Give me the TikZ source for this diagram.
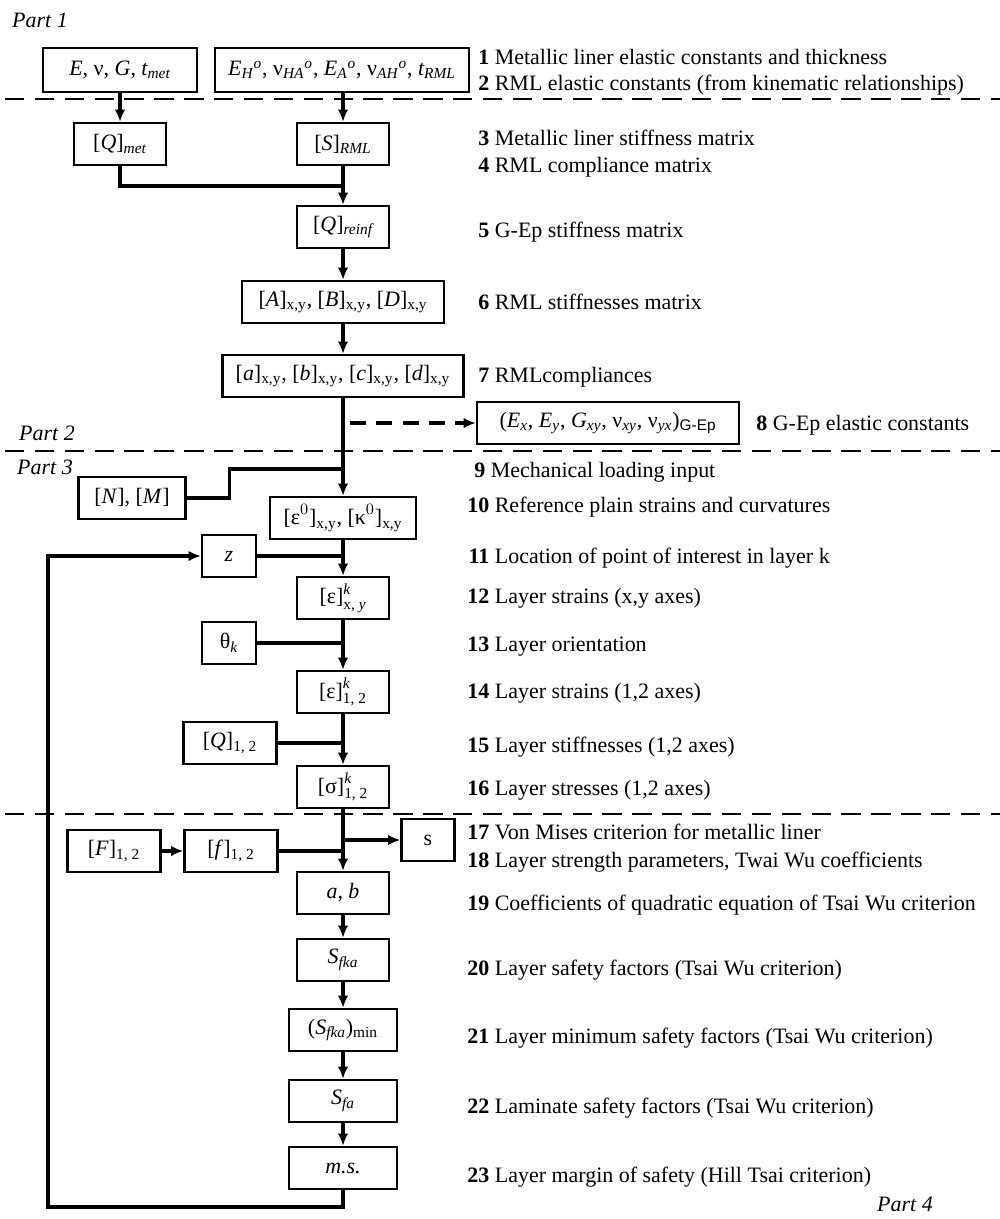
\documentclass[tikz,border=0pt]{standalone}
\usepackage{fontspec}
\setmainfont{Liberation Serif}
\setsansfont{Liberation Sans}
\usepackage{amsmath}
\usepackage{tikz}
\usetikzlibrary{arrows.meta}
\tikzstyle{box} = [draw, line width=1.3pt, minimum height=0.84cm, minimum width=1.84cm, inner sep=2pt]
\tikzstyle{arrow} = [-{Latex[length=7pt,width=6pt]}, line width=2pt]
\tikzstyle{line} = [line width=2pt]
\tikzstyle{sep} = [line width=1.3pt, dash pattern=on 11pt off 6pt]
\tikzstyle{lbl} = [anchor=west, inner sep=0pt]
\newcommand{\nr}[2]{\makebox[0.44cm][r]{\textbf{#1}} #2}

\begin{document}
\begin{tikzpicture}[x=0.2mm, y=-0.2mm, font=\fontsize{12.5}{15}\selectfont]
\useasboundingbox (0,0) rectangle (1000,1219);
% part 1
\node[anchor=west] (p1) at (6,20) {\textit{Part 1}};
\node[box, minimum width=3.08cm, minimum height=0.88cm] (in1) at (120,70) {\textit{E}, ν, \textit{G}, $\textit{t}_{\textit{met}}$};
\node[box, minimum width=5.08cm, minimum height=0.88cm] (in2) at (342,70) {$\textit{E}_{\textit{H}}{}^{\textit{o}}$, $\text{ν}_{\textit{HA}}{}^{\textit{o}}$, $\textit{E}_{\textit{A}}{}^{\textit{o}}$, $\text{ν}_{\textit{AH}}{}^{\textit{o}}$, $\textit{t}_{\textit{RML}}$};
\draw[sep] (5,99) -- (1000,99);
\node[box] (Qmet) at (120,144) {[\textit{Q}]$_{\textit{met}}$};
\node[box] (SRML) at (343,144) {[\textit{S}]$_{\textit{RML}}$};
\node[box] (Qreinf) at (343,227) {[\textit{Q}]$_{\textit{reinf}}$};
\node[box, minimum width=4.04cm] (ABD) at (343,302) {[\textit{A}]$_{\text{x,y}}$, [\textit{B}]$_{\text{x,y}}$, [\textit{D}]$_{\text{x,y}}$};
\node[box, minimum width=4.82cm] (abcd) at (343,376) {[\textit{a}]$_{\text{x,y}}$, [\textit{b}]$_{\text{x,y}}$, [\textit{c}]$_{\text{x,y}}$, [\textit{d}]$_{\text{x,y}}$};
\node[box, minimum width=5.24cm] (GEp) at (608,423) {(\textit{E}$_{\textit{x}}$, \textit{E}$_{\textit{y}}$, \textit{G}$_{\textit{xy}}$, ν$_{\textit{xy}}$, ν$_{\textit{yx}}$)$_{\textsf{G-Ep}}$};
\coordinate (j0) at (343,186);
\coordinate (d0) at (350,423);
\draw[arrow] (in1) -- (Qmet);
\draw[arrow] (in2.south -| SRML) -- (SRML);
\draw[line] (Qmet) |- (j0);
\draw[arrow] (SRML) -- (Qreinf);
\draw[arrow] (Qreinf) -- (ABD);
\draw[arrow] (ABD) -- (abcd);
\draw[-{Latex[length=7pt,width=6pt]}, line width=2.4pt, dash pattern=on 9pt off 6pt] (d0) -- (d0 -| GEp.west);
% part 2 / part 3
\node[anchor=west] (p2) at (13,433) {\textit{Part 2}};
\draw[sep] (5,451) -- (1000,451);
\node[anchor=west] (p3) at (11,467) {\textit{Part 3}};
\node[box, minimum width=2.14cm] (NM) at (132,498) {[\textit{N}], [\textit{M}]};
\node[box, minimum width=2.92cm] (eps0) at (343,518) {$\text{[ε}^{0}\text{]}_{\text{x,y}}$, $\text{[κ}^{0}\text{]}_{\text{x,y}}$};
\node[box, minimum width=1.08cm] (z) at (229,556) {\textit{z}};
\node[box] (epsxy) at (343,598) {$\text{[ε]}^{\textit{k}}_{\text{x, }\textit{y}}$};
\node[box, minimum width=1.08cm] (theta) at (229,643) {θ$_{\textit{k}}$};
\node[box] (eps12) at (343,692) {$\text{[ε]}^{\textit{k}}_{\text{1, 2}}$};
\node[box, minimum width=1.86cm] (Q12) at (230,743) {[\textit{Q}]$_{\text{1, 2}}$};
\node[box] (sigma) at (343,787) {$\text{[σ]}^{\textit{k}}_{\text{1, 2}}$};
\draw[arrow] (abcd) -- (eps0);
\draw[line] (NM.east) -- ++(43,0) |- (eps0.north |- 0,469);
\draw[line] (z) -- (z -| epsxy);
\draw[arrow] (eps0) -- (epsxy);
\draw[line] (theta) -- (theta -| eps12);
\draw[arrow] (epsxy) -- (eps12);
\draw[line] (Q12) -- (Q12 -| sigma);
\draw[arrow] (eps12) -- (sigma);
% part 4
\draw[sep] (5,814) -- (1000,814);
\node[box, minimum width=1.86cm] (F12) at (114,851) {[\textit{F}]$_{\text{1, 2}}$};
\node[box, minimum width=1.86cm] (f12) at (231,851) {[\textit{f}]$_{\text{1, 2}}$};
\node[box, minimum width=1.06cm] (s) at (428,840) {s};
\node[box] (ab) at (343,893) {\textit{a}, \textit{b}};
\node[box] (Sfka) at (343,960) {\textit{S}$_{\textit{fka}}$};
\node[box, minimum width=2.16cm] (Sfkamin) at (343,1030) {(\textit{S}$_{\textit{fka}}$)$_{\text{min}}$};
\node[box, minimum width=2.16cm] (Sfa) at (343,1101) {\textit{S}$_{\textit{fa}}$};
\node[box, minimum width=2.16cm] (ms) at (343,1168) {\textit{m.s.}};
\coordinate (fb) at (48,1207);
\draw[arrow] (sigma) -- (ab);
\draw[arrow] (sigma.south |- s) -- (s);
\draw[arrow] (F12) -- (f12);
\draw[line] (f12) -- (f12 -| ab);
\draw[arrow] (ab) -- (Sfka);
\draw[arrow] (Sfka) -- (Sfkamin);
\draw[arrow] (Sfkamin) -- (Sfa);
\draw[arrow] (Sfa) -- (ms);
\draw[arrow] (ms.south) |- (fb) |- (z.west);
\node[anchor=west] (p4) at (871,1204) {\textit{Part 4}};
% step descriptions
\node[lbl] (t1) at (467,57) {\nr{1}{Metallic liner elastic constants and thickness}};
\node[lbl] (t2) at (467,85) {\nr{2}{RML elastic constants (from kinematic relationships)}};
\node[lbl] (t3) at (467,138) {\nr{3}{Metallic liner stiffness matrix}};
\node[lbl] (t4) at (467,167) {\nr{4}{RML compliance matrix}};
\node[lbl] (t5) at (467,232) {\nr{5}{G-Ep stiffness matrix}};
\node[lbl] (t6) at (467,302) {\nr{6}{RML stiffnesses matrix}};
\node[lbl] (t7) at (467,377) {\nr{7}{RMLcompliances}};
\node[lbl] (t8) at (745,425) {\nr{8}{G-Ep elastic constants}};
\node[lbl] (t9) at (463,472) {\nr{9}{Mechanical loading input}};
\node[lbl] (t10) at (467,507) {\nr{10}{Reference plain strains and curvatures}};
\node[lbl] (t11) at (467,558) {\nr{11}{Location of point of interest in layer k}};
\node[lbl] (t12) at (467,598) {\nr{12}{Layer strains (x,y axes)}};
\node[lbl] (t13) at (467,647) {\nr{13}{Layer orientation}};
\node[lbl] (t14) at (467,693) {\nr{14}{Layer strains (1,2 axes)}};
\node[lbl] (t15) at (467,747) {\nr{15}{Layer stiffnesses (1,2 axes)}};
\node[lbl] (t16) at (467,790) {\nr{16}{Layer stresses (1,2 axes)}};
\node[lbl] (t17) at (467,832) {\nr{17}{Von Mises criterion for metallic liner}};
\node[lbl] (t18) at (467,862) {\nr{18}{Layer strength parameters, Twai Wu coefficients}};
\node[lbl] (t19) at (467,905) {\nr{19}{Coefficients of quadratic equation of Tsai Wu criterion}};
\node[lbl] (t20) at (467,970) {\nr{20}{Layer safety factors (Tsai Wu criterion)}};
\node[lbl] (t21) at (467,1038) {\nr{21}{Layer minimum safety factors (Tsai Wu criterion)}};
\node[lbl] (t22) at (467,1108) {\nr{22}{Laminate safety factors (Tsai Wu criterion)}};
\node[lbl] (t23) at (467,1177) {\nr{23}{Layer margin of safety (Hill Tsai criterion)}};
\end{tikzpicture}
\end{document}
